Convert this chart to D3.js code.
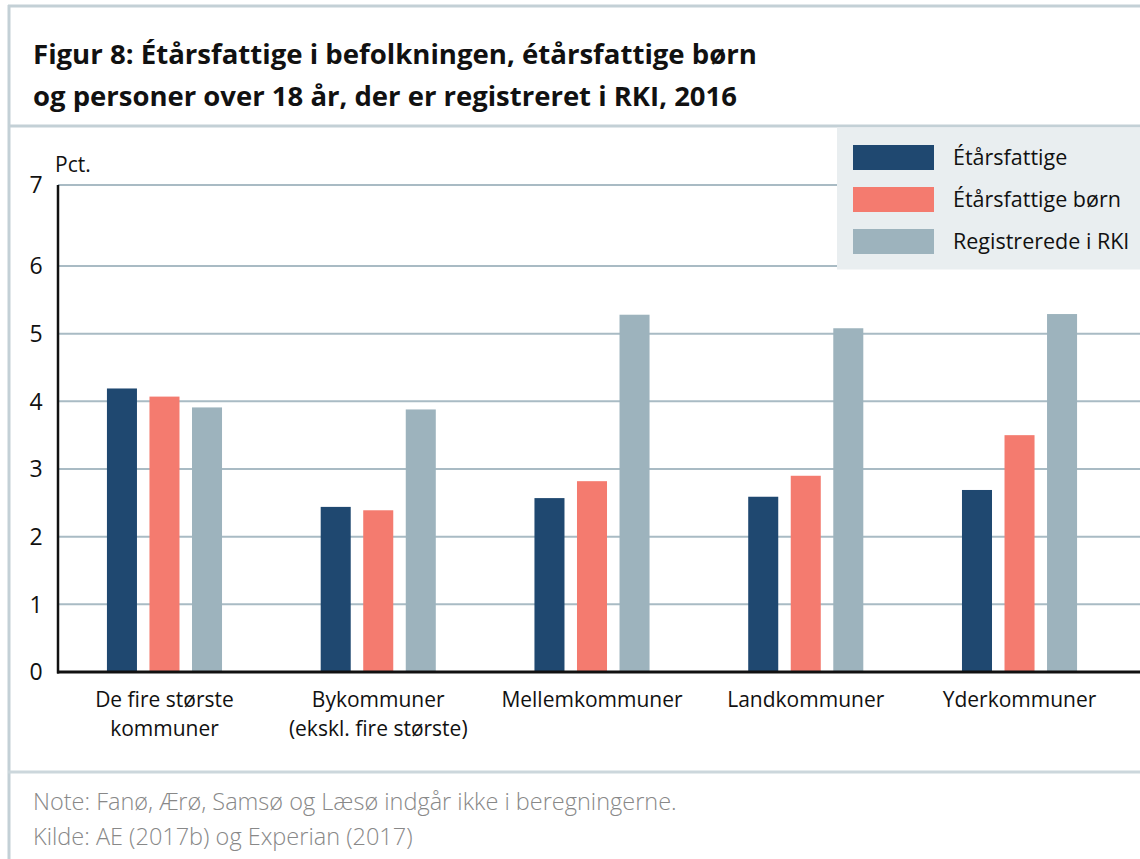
<!DOCTYPE html>
<html>
<head>
<meta charset="utf-8">
<script src="https://cdn.jsdelivr.net/npm/d3@7"></script>
<style>
  body { margin: 0; background: #fff; }
  svg { display: block; font-family: "Open Sans", "Noto Sans", sans-serif; }
</style>
</head>
<body>
<svg width="1140" height="859"></svg>
<script>
var categories = [
  ['De fire største', 'kommuner'],
  ['Bykommuner', '(ekskl. fire største)'],
  ['Mellemkommuner'],
  ['Landkommuner'],
  ['Yderkommuner']
];
var seriesNames = ['Étårsfattige', 'Étårsfattige børn', 'Registrerede i RKI'];
var etaarsfattige = [4.19, 2.44, 2.57, 2.59, 2.69];
var etaarsfattigeBoern = [4.07, 2.39, 2.82, 2.90, 3.50];
var registreredeRKI = [3.91, 3.88, 5.28, 5.08, 5.29];
var yTicks = [0, 1, 2, 3, 4, 5, 6, 7];
var titleLines = ['Figur 8: Étårsfattige i befolkningen, étårsfattige børn',
                  'og personer over 18 år, der er registreret i RKI, 2016'];
var noteLines = ['Note: Fanø, Ærø, Samsø og Læsø indgår ikke i beregningerne.',
                 'Kilde: AE (2017b) og Experian (2017)'];

var colors = ['#1f4870', '#f47b6f', '#9db3bd'];
var values = [etaarsfattige, etaarsfattigeBoern, registreredeRKI];

var width = 1140, height = 859;
var margin = {top: 185, bottom: 187, left: 58, right: 0};
var svg = d3.select('svg');

// frame lines
var frame = '#c3d0d6';
svg.append('line').attr('x1', 8).attr('x2', width).attr('y1', 6).attr('y2', 6)
  .attr('stroke', frame).attr('stroke-width', 3);
svg.append('line').attr('x1', 9).attr('x2', 9).attr('y1', 5).attr('y2', height)
  .attr('stroke', frame).attr('stroke-width', 3);
svg.append('line').attr('x1', 8).attr('x2', width).attr('y1', 126).attr('y2', 126)
  .attr('stroke', frame).attr('stroke-width', 3);
svg.append('line').attr('x1', 8).attr('x2', width).attr('y1', 772).attr('y2', 772)
  .attr('stroke', '#ccd7dc').attr('stroke-width', 3);

// title
svg.append('g').selectAll('text').data(titleLines).join('text')
  .attr('x', 33).attr('y', (d, i) => 64 + i * 42)
  .attr('font-size', 26).attr('font-weight', 'bold').attr('fill', '#111')
  .attr('textLength', (d, i) => i === 0 ? 724 : 704)
  .attr('lengthAdjust', 'spacingAndGlyphs')
  .text(d => d);

// scales (the original's top gridline sits a little higher than linear)
var y = d3.scaleLinear()
  .domain([0, 6, 7])
  .range([672, 266, 185]);

var x0 = d3.scaleBand()
  .domain(categories.map((d, i) => i))
  .range([57.6, 1126.4])
  .padding(0);

var x1 = d3.scaleBand()
  .domain(seriesNames.map((d, i) => i))
  .range([0, x0.bandwidth()])
  .paddingInner(0.294)
  .paddingOuter(1.16);

// gridlines
svg.append('g').selectAll('line').data(yTicks.filter(d => d > 0)).join('line')
  .attr('x1', margin.left).attr('x2', width)
  .attr('y1', d => y(d)).attr('y2', d => y(d))
  .attr('stroke', '#a9bbc4').attr('stroke-width', 2);

// y tick labels
svg.append('g').selectAll('text').data(yTicks).join('text')
  .attr('x', 36).attr('y', d => y(d))
  .attr('dy', '0.36em')
  .attr('text-anchor', 'middle')
  .attr('font-size', 23).attr('fill', '#111')
  .text(d => d);

svg.append('text').attr('x', 55).attr('y', 172)
  .attr('font-size', 21).attr('fill', '#111').text('Pct.');

// bars
var groups = svg.append('g').selectAll('g').data(categories).join('g')
  .attr('transform', (d, i) => 'translate(' + x0(i) + ',0)');

groups.selectAll('rect')
  .data((d, i) => values.map((s, j) => ({s: j, v: s[i]})))
  .join('rect')
  .attr('x', d => x1(d.s))
  .attr('width', x1.bandwidth())
  .attr('y', d => y(d.v))
  .attr('height', d => y(0) - y(d.v))
  .attr('fill', d => colors[d.s]);

// axes
svg.append('line').attr('x1', margin.left).attr('x2', margin.left)
  .attr('y1', y(7)).attr('y2', y(0) + 1.5)
  .attr('stroke', '#111').attr('stroke-width', 2.5);
svg.append('line').attr('x1', margin.left - 1).attr('x2', width)
  .attr('y1', y(0)).attr('y2', y(0))
  .attr('stroke', '#111').attr('stroke-width', 3);

// category labels
groups.append('text')
  .attr('x', x0.bandwidth() / 2)
  .attr('text-anchor', 'middle')
  .attr('font-size', 21).attr('fill', '#111')
  .selectAll('tspan').data(d => d).join('tspan')
  .attr('x', x0.bandwidth() / 2)
  .attr('y', (d, i) => 707 + i * 29)
  .text(d => d);

// legend
var legend = svg.append('g');
legend.append('rect').attr('x', 837).attr('y', 127.5)
  .attr('width', width - 837).attr('height', 142)
  .attr('fill', '#e9eef0');
var items = legend.selectAll('g').data(seriesNames).join('g')
  .attr('transform', (d, i) => 'translate(853,' + (145 + i * 42) + ')');
items.append('rect').attr('width', 81).attr('height', 25)
  .attr('fill', (d, i) => colors[i]);
items.append('text').attr('x', 100).attr('y', 20)
  .attr('font-size', 21.5).attr('fill', '#111').text(d => d);

// notes
svg.append('g').selectAll('text').data(noteLines).join('text')
  .attr('x', 33).attr('y', (d, i) => 810 + i * 35)
  .attr('font-size', 23.5).attr('font-weight', 300).attr('fill', '#888')
  .text(d => d);
</script>
</body>
</html>
